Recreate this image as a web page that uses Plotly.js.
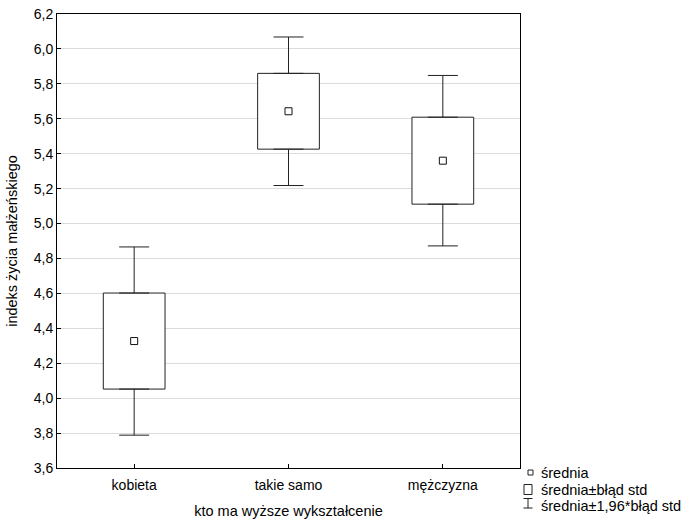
<!DOCTYPE html>
<html>
<head>
<meta charset="utf-8">
<script src="https://cdn.plot.ly/plotly-3.0.1.min.js"></script>
<style>
  html, body { margin: 0; padding: 0; background: #fff; }
  #chart { width: 684px; height: 519px; }
</style>
</head>
<body>
<div id="chart"></div>
<script>
// Marital life index by who has the higher education level
const categories = ['kobieta', 'takie samo', 'mężczyzna'];
const means = [4.327, 5.643, 5.360];
const stdErrors = [0.275, 0.217, 0.249];
const ciFactor = 1.96;

const yTickValues = [3.6, 3.8, 4.0, 4.2, 4.4, 4.6, 4.8, 5.0, 5.2, 5.4, 5.6, 5.8, 6.0, 6.2];

const legendLabels = ['średnia', 'średnia±błąd std', 'średnia±1,96*błąd std'];

const xIdx = categories.map((_, i) => i);
const boxLow = means.map((m, i) => m - stdErrors[i]);
const boxHigh = means.map((m, i) => m + stdErrors[i]);
const boxSpan = stdErrors.map(s => 2 * s);
const whiskerExtra = stdErrors.map(s => (ciFactor - 1) * s);
const zeros = means.map(() => 0);

const ink = '#222222';
const font = 'Liberation Sans, Arial, sans-serif';
const fs = 14;

const traces = [
  // mean ± standard error box
  {
    type: 'bar', x: xIdx, base: boxLow, y: boxSpan, width: 0.4,
    marker: { color: '#ffffff', line: { color: ink, width: 1 } },
    hoverinfo: 'skip', showlegend: false
  },
  // upper whisker: from box top to mean + 1.96*SE
  {
    type: 'scatter', mode: 'markers', x: xIdx, y: boxHigh,
    marker: { size: 1, color: 'rgba(0,0,0,0)' },
    error_y: { type: 'data', symmetric: false, array: whiskerExtra, arrayminus: zeros,
               width: 15, thickness: 1, color: ink },
    hoverinfo: 'skip', showlegend: false
  },
  // lower whisker: from box bottom to mean - 1.96*SE
  {
    type: 'scatter', mode: 'markers', x: xIdx, y: boxLow,
    marker: { size: 1, color: 'rgba(0,0,0,0)' },
    error_y: { type: 'data', symmetric: false, array: zeros, arrayminus: whiskerExtra,
               width: 15, thickness: 1, color: ink },
    hoverinfo: 'skip', showlegend: false
  },
  // mean marker
  {
    type: 'scatter', mode: 'markers', x: xIdx, y: means,
    marker: { symbol: 'square-open', size: 7, color: '#111', line: { width: 1 } },
    showlegend: false
  }
];

const layout = {
  width: 684, height: 519,
  margin: { l: 57, r: 164, t: 14, b: 51, pad: 0 },
  paper_bgcolor: '#ffffff', plot_bgcolor: '#ffffff',
  separators: ', ',
  font: { family: font, size: fs, color: '#000' },
  showlegend: false,
  barmode: 'overlay',
  xaxis: {
    range: [-0.5, 2.5],
    tickmode: 'array', tickvals: xIdx, ticktext: categories,
    ticks: 'inside', ticklen: 4, tickcolor: '#000',
    ticklabelstandoff: 4,
    showgrid: false, zeroline: false,
    showline: true, linecolor: '#000', linewidth: 1, mirror: true,
    tickfont: { family: font, size: fs },
    title: { text: 'kto ma wyższe wykształcenie', font: { family: font, size: 14.5 }, standoff: 16 }
  },
  yaxis: {
    range: [3.6, 6.2],
    tickmode: 'array', tickvals: yTickValues,
    tickformat: '.1f',
    ticks: 'inside', ticklen: 4, tickcolor: '#000',
    showgrid: true, gridcolor: '#dcdcdc', gridwidth: 1,
    zeroline: false,
    showline: true, linecolor: '#000', linewidth: 1, mirror: true,
    tickfont: { family: font, size: fs },
    title: { text: 'indeks życia małżeńskiego', font: { family: font, size: 14.5 }, standoff: 12 }
  },
  shapes: [],
  annotations: []
};

// pixel helpers for the paper-space legend
const plotW = 684 - 57 - 164, plotH = 519 - 14 - 51;
const px = x => (x - 57) / plotW;
const py = y => (519 - 51 - y) / plotH;
const legendLine = { color: ink, width: 1 };

layout.shapes.push(
  { type: 'rect', xref: 'paper', yref: 'paper', x0: px(528), x1: px(533), y0: py(475), y1: py(470),
    line: legendLine, fillcolor: '#fff' },
  { type: 'rect', xref: 'paper', yref: 'paper', x0: px(524), x1: px(532), y0: py(494.5), y1: py(484.5),
    line: legendLine, fillcolor: '#fff' },
  { type: 'line', xref: 'paper', yref: 'paper', x0: px(528), x1: px(528), y0: py(508), y1: py(498.5), line: legendLine },
  { type: 'line', xref: 'paper', yref: 'paper', x0: px(523.5), x1: px(532.5), y0: py(498.5), y1: py(498.5), line: legendLine },
  { type: 'line', xref: 'paper', yref: 'paper', x0: px(523.5), x1: px(532.5), y0: py(508), y1: py(508), line: legendLine }
);

const legendRowsY = [473, 490, 506];
legendLabels.forEach((t, i) => {
  layout.annotations.push({
    xref: 'paper', yref: 'paper', x: px(539), y: py(legendRowsY[i]),
    xanchor: 'left', yanchor: 'middle', showarrow: false,
    text: t, font: { family: font, size: 14.5, color: '#000' }
  });
});

Plotly.newPlot('chart', traces, layout, { displayModeBar: false, staticPlot: true });
</script>
</body>
</html>
